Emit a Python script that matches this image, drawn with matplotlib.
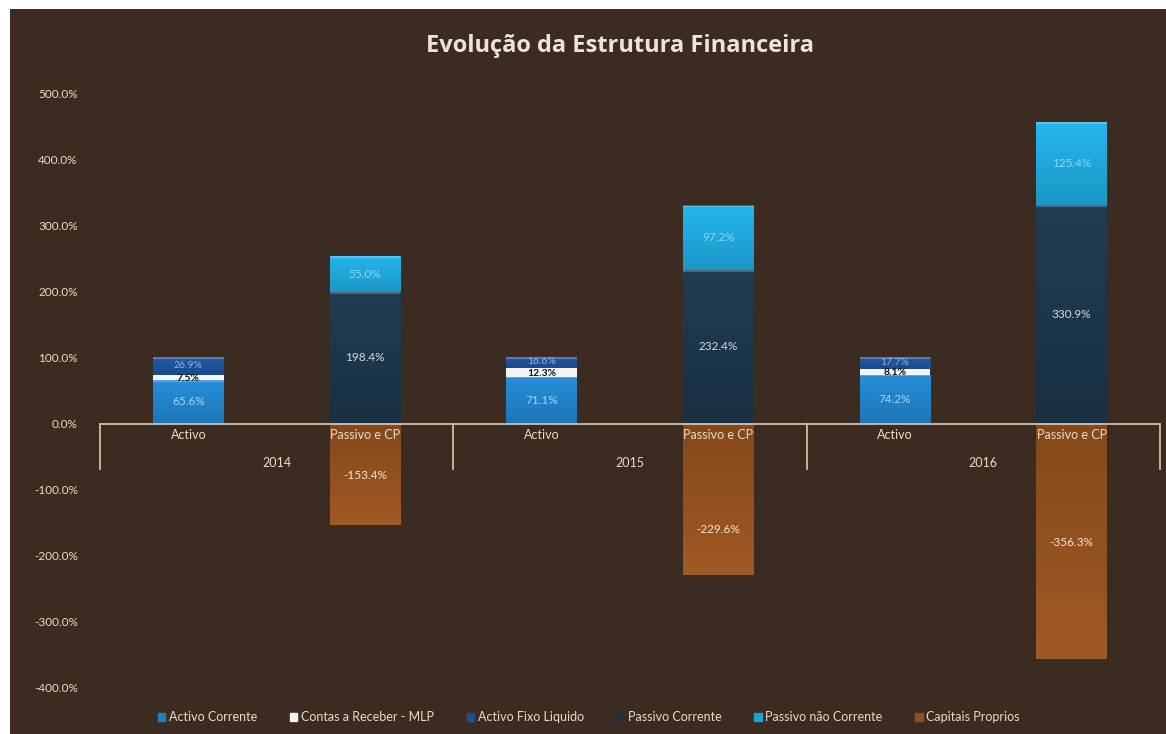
import matplotlib.pyplot as plt
import matplotlib.patches as mpatches
import matplotlib.colors as mcolors
import numpy as np

plt.rcParams['font.family'] = ['Lato', 'DejaVu Sans']

# categories: one "Activo" and one "Passivo e CP" column per year
anos = ["2014", "2015", "2016"]
colunas = ["Activo", "Passivo e CP"]

# activo side (%)
activo_corrente = [65.6, 71.1, 74.2]
contas_receber_mlp = [7.5, 12.3, 8.1]
activo_fixo = [26.9, 16.6, 17.7]

# passivo + capitais proprios side (%)
passivo_corrente = [198.4, 232.4, 330.9]
passivo_nao_corrente = [55.0, 97.2, 125.4]
capitais_proprios = [-153.4, -229.6, -356.3]
# where the capitais proprios labels sit
cp_label_y = [-78, -160, -180]

series_nomes = ["Activo Corrente", "Contas a Receber - MLP", "Activo Fixo Liquido",
                "Passivo Corrente", "Passivo não Corrente", "Capitais Proprios"]
cores = ["#1f7fc4", "#f4f4f4", "#1c4f94", "#1b3347", "#1ea3d6", "#8f4e1d"]
cores_txt = ["#a9d3f0", "#111111", "#8fb0ec", "#d3dbe2", "#8ad8f4", "#f4e6d6"]

fundo = "#3b2b20"
texto = "#e6dccd"

fig = plt.figure(figsize=(11.66, 7.34), dpi=100, facecolor="white")
# dark chart area with a thin white border at top and left
bg = fig.add_axes([10 / 1166, 0, 1 - 10 / 1166, 1 - 9 / 734])
bg.set_facecolor(fundo)
bg.set_xticks([])
bg.set_yticks([])
for s in bg.spines.values():
    s.set_visible(False)

ax = fig.add_axes([100 / 1166, 46 / 734, 1060 / 1166, 595 / 734])
ax.patch.set_alpha(0)

w = 0.4
xa = np.arange(3) * 2
xp = xa + 1

bars = []
bars.append(ax.bar(xa, activo_corrente, w, color=cores[0]))
bars.append(ax.bar(xa, contas_receber_mlp, w, bottom=activo_corrente, color=cores[1]))
base_fixo = np.array(activo_corrente) + np.array(contas_receber_mlp)
bars.append(ax.bar(xa, activo_fixo, w, bottom=base_fixo, color=cores[2]))
bars.append(ax.bar(xp, passivo_corrente, w, color=cores[3]))
bars.append(ax.bar(xp, passivo_nao_corrente, w, bottom=passivo_corrente, color=cores[4]))
bars.append(ax.bar(xp, capitais_proprios, w, color=cores[5]))


def gradiente(r, cor):
    # soft vertical shading clipped to the bar
    c = np.array(mcolors.to_rgb(cor))
    claro = np.clip(c * 1.08 + 0.02, 0, 1)
    escuro = c * 0.93
    t = np.linspace(0, 1, 64)[:, None]
    img = (escuro * (1 - t) + claro * t)[:, None, :]
    x0, y0 = r.get_x(), r.get_y()
    x1, y1 = x0 + r.get_width(), y0 + r.get_height()
    lo, hi = min(y0, y1), max(y0, y1)
    if r.get_height() < 0:
        img = img[::-1]
    im = ax.imshow(img, extent=[x0, x1, lo, hi], origin="lower", aspect="auto",
                   zorder=2.1, interpolation="bilinear")
    im.set_clip_path(r)


for bc, cor in zip(bars, cores):
    for r in bc:
        if cor != "#f4f4f4":
            gradiente(r, cor)
        y0 = r.get_y() + r.get_height() if r.get_height() > 0 else r.get_y()
        ax.plot([r.get_x(), r.get_x() + r.get_width()], [y0 - 1.2, y0 - 1.2],
                color="white", alpha=0.22, lw=1.5, solid_capstyle="butt", zorder=2.2)
ax.set_xlim(-0.5, 5.5)
ax.set_ylim(-400, 500)

valores = [activo_corrente, contas_receber_mlp, activo_fixo,
           passivo_corrente, passivo_nao_corrente, capitais_proprios]
for i, (bc, vals) in enumerate(zip(bars, valores)):
    for k, (r, v) in enumerate(zip(bc, vals)):
        yc = r.get_y() + r.get_height() / 2
        tam = 8.5
        if i == 5:
            yc = cp_label_y[k]
        if i in (1, 2):
            tam = 7.5
        if i == 2:
            yc += 1.5
        if i == 1:
            yc -= 1.0
        peso = "bold" if i == 1 else "normal"
        ax.text(r.get_x() + r.get_width() / 2, yc, f"{v:.1f}%", ha="center", va="center",
                fontsize=tam, color=cores_txt[i], fontweight=peso, zorder=5)

# axis line at zero and group separators
ax.axhline(0, color="#cbbfb2", lw=1.3, zorder=3)
for xs in [-0.5, 1.5, 3.5, 5.5]:
    ax.plot([xs, xs], [0, -68], color="#cbbfb2", lw=1.3, clip_on=False, zorder=3)

for k in range(3):
    ax.text(xa[k], -18, colunas[0], ha="center", va="center", fontsize=9, color=texto, zorder=5)
    ax.text(xp[k], -18, colunas[1], ha="center", va="center", fontsize=9, color=texto, zorder=5)
    ax.text(xa[k] + 0.5, -60, anos[k], ha="center", va="center", fontsize=9, color=texto, zorder=5)

ax.set_xticks([])
ax.set_yticks(np.arange(-400, 501, 100))
ax.set_yticklabels([f"{t:.1f}%" for t in np.arange(-400, 501, 100)])
ax.tick_params(axis="y", length=0, pad=16, labelsize=8.5, labelcolor=texto)
for s in ax.spines.values():
    s.set_visible(False)

fig.text(0.532, 0.938, "Evolução da Estrutura Financeira", ha="center", va="center",
         fontsize=17, fontweight="bold", color="#ece4da", family=["Open Sans", "DejaVu Sans"])

handles = [mpatches.Patch(color=c, label=n) for c, n in zip(cores, series_nomes)]
leg = fig.legend(handles=handles, loc="center", bbox_to_anchor=(0.505, 0.023), ncol=6,
                 frameon=False, fontsize=9, handlelength=0.6, handleheight=0.6,
                 columnspacing=2.6, handletextpad=0.3)
for t in leg.get_texts():
    t.set_color(texto)

fig.savefig("out.png", dpi=100, facecolor=fig.get_facecolor())
